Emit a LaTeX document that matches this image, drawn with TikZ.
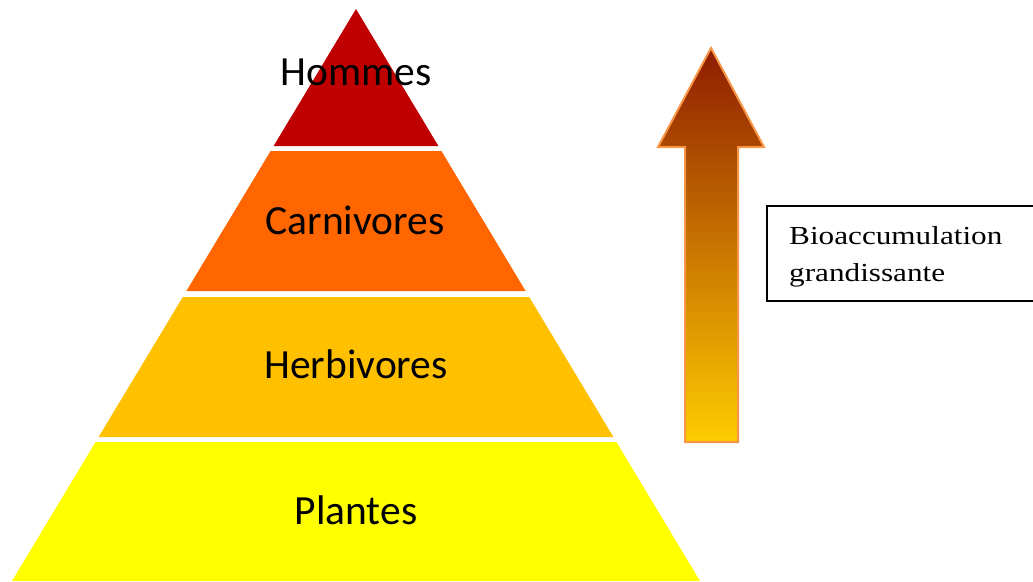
\documentclass[tikz,border=0pt]{standalone}
\usepackage{fontspec}
\setmainfont{Carlito}
\newfontfamily\boxfont{Liberation Serif}
\definecolor{hommesC}{RGB}{192,0,0}
\definecolor{carnC}{RGB}{255,102,0}
\definecolor{herbC}{RGB}{255,192,0}
\definecolor{plantC}{RGB}{255,255,0}
\definecolor{arrTop}{RGB}{143,28,0}
\definecolor{arrBot}{RGB}{255,204,0}
\definecolor{arrLine}{RGB}{247,150,70}
\tikzset{
  layerlabel/.style={anchor=base, inner sep=0pt, font=\fontsize{41.5}{48}\selectfont, text=black},
  boxlabel/.style={anchor=base west, inner sep=0pt, font=\boxfont\fontsize{26}{30}\selectfont},
}
\begin{document}
\begin{tikzpicture}[x=1pt,y=-1pt]
\useasboundingbox (0,0) rectangle (1033,581);
\clip (0,0) rectangle (1033,581);
% pyramid layers
\fill[hommesC] (356,9) -- (438.4,146) -- (273.6,146) -- cycle;
\fill[carnC] (270.6,151) -- (441.4,151) -- (525.6,291) -- (186.4,291) -- cycle;
\fill[herbC] (182.8,297) -- (529.2,297) -- (613.4,437) -- (98.6,437) -- cycle;
\fill[plantC] (95.6,442) -- (616.4,442) -- (700,581) -- (12,581) -- cycle;
\node[layerlabel] (hommes) at (356,85) {Hommes};
\node[layerlabel] (carn) at (355,234) {Carnivores};
\node[layerlabel] (herb) at (356,378) {Herbivores};
\node[layerlabel] (plant) at (356,524) {Plantes};
% arrow
\path[top color=arrTop, bottom color=arrBot, draw=arrLine, line width=2pt, line join=miter]
  (711,48) -- (764,147) -- (738,147) -- (738,442) -- (685,442) -- (685,147) -- (658,147) -- cycle;
% text box
\draw[black, line width=1.3pt] (767,206) rectangle (1045,301);
\node[boxlabel] (l1) at (789,244) {\scalebox{1.2}[1]{Bioaccumulation}};
\node[boxlabel] (l2) at (789,281) {\scalebox{1.2}[1]{grandissante}};
\end{tikzpicture}
\end{document}
